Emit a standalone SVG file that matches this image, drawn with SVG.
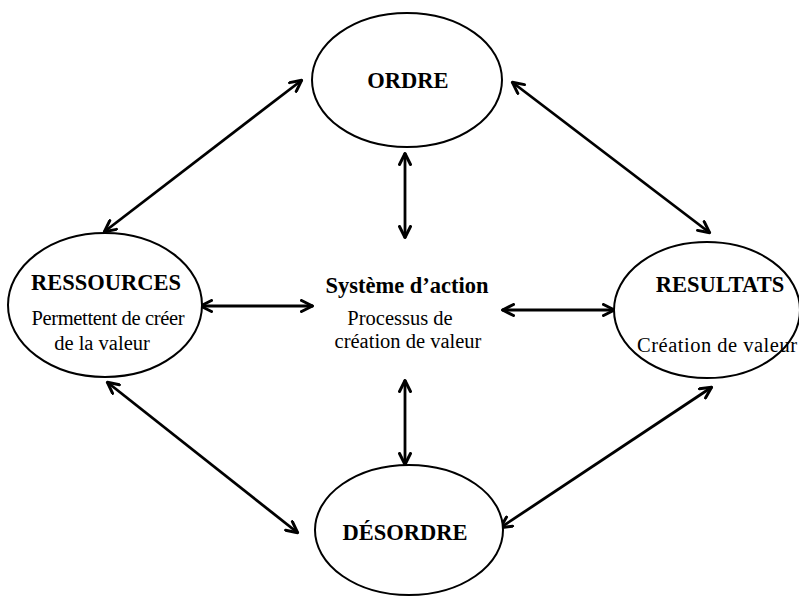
<svg xmlns="http://www.w3.org/2000/svg" width="799" height="602" viewBox="0 0 799 602">
<style>
.node ellipse{fill:#fff;stroke:#000;stroke-width:2}
.t{font-family:"Liberation Serif","Times New Roman",serif;fill:#000;text-anchor:middle}
.b{font-weight:bold;font-size:22.5px}
.r{font-size:20.5px}
.conn line{stroke:#000;stroke-width:2.8;marker-start:url(#ah);marker-end:url(#ah)}
</style>
<defs>
<marker id="ah" viewBox="0 0 14 14" refX="13" refY="7" markerWidth="14" markerHeight="14" markerUnits="userSpaceOnUse" orient="auto-start-reverse">
<path d="M1.5,1.5 L12.5,7 L1.5,12.5" fill="none" stroke="#000" stroke-width="3" stroke-linecap="round" stroke-linejoin="round"/>
</marker>
</defs>
<rect width="799" height="602" fill="#fff"/>
<g class="conn" id="connectors">
<line x1="104" y1="232" x2="302" y2="80"/>
<line x1="512" y1="82" x2="710" y2="233"/>
<line x1="405" y1="153" x2="405" y2="238"/>
<line x1="200" y1="306" x2="313" y2="306"/>
<line x1="502" y1="310" x2="615" y2="310"/>
<line x1="405" y1="380" x2="405" y2="465"/>
<line x1="107" y1="382" x2="298" y2="533"/>
<line x1="500" y1="528" x2="712" y2="387"/>
</g>
<g class="node" id="ordre">
<ellipse cx="407" cy="80" rx="95" ry="67"/>
<text class="t b" x="408" y="88">ORDRE</text>
</g>
<g class="node" id="ressources">
<ellipse cx="105" cy="305" rx="97" ry="72"/>
<text class="t b" x="106" y="290">RESSOURCES</text>
<text class="t r" x="108" y="325" textLength="153">Permettent de créer</text>
<text class="t r" x="102" y="350">de la valeur</text>
</g>
<g class="node" id="resultats">
<ellipse cx="707" cy="310" rx="93" ry="68"/>
<text class="t b" x="720" y="292">RESULTATS</text>
<text class="t r" x="717" y="352" textLength="160">Création de valeur</text>
</g>
<g class="node" id="desordre">
<ellipse cx="409" cy="530" rx="94" ry="65"/>
<text class="t b" x="405" y="540">DÉSORDRE</text>
</g>
<g class="node" id="systeme">
<text class="t b" x="407" y="293">Système d’action</text>
<text class="t r" x="400" y="325">Processus de</text>
<text class="t r" x="408" y="348">création de valeur</text>
</g>
</svg>
